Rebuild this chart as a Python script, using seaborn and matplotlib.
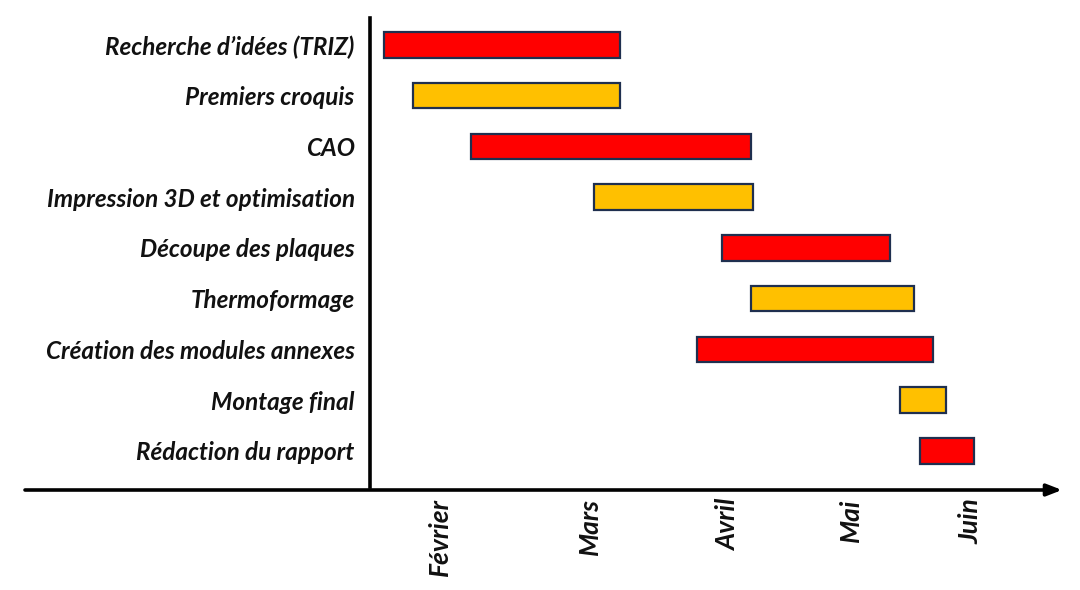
import numpy as np
import pandas as pd
import seaborn as sns
import matplotlib.pyplot as plt

sns.set_style('white')
plt.rcParams['font.family'] = ['Lato', 'DejaVu Sans']

# Tasks of the planning (start / end, arbitrary time units)
taches = ['Recherche d\u2019idées (TRIZ)', 'Premiers croquis', 'CAO',
          'Impression 3D et optimisation', 'Découpe des plaques', 'Thermoformage',
          'Création des modules annexes', 'Montage final', 'Rédaction du rapport']
debut = [38.4, 41.3, 47.1, 59.4, 72.2, 75.1, 69.7, 90.0, 92.0]
fin = [62.0, 62.0, 75.1, 75.3, 89.0, 91.4, 93.3, 94.6, 97.4]
couleur = ['#FF0000', '#FFC000', '#FF0000', '#FFC000', '#FF0000',
           '#FFC000', '#FF0000', '#FFC000', '#FF0000']

mois = ['Février', 'Mars', 'Avril', 'Mai', 'Juin']
mois_pos = [44.0, 59.0, 72.8, 85.1, 97.0]

df = pd.DataFrame({'tache': taches, 'debut': debut, 'fin': fin, 'couleur': couleur})
df['duree'] = df['fin'] - df['debut']

fig = plt.figure(figsize=(10.8, 5.9), dpi=100)
ax = fig.add_axes([370 / 1080, 1 - 490 / 590, 690 / 1080, 472 / 590])

ax.barh(np.arange(len(df)), df['duree'], left=df['debut'], height=0.5,
        color=df['couleur'], edgecolor='#1F2F4F', linewidth=1.6)

ax.set_xlim(37, 106)
ax.set_ylim(8.77, -0.53)

font = dict(fontweight='bold', fontstyle='italic', color='#111111')
ax.set_yticks(np.arange(len(df)))
ax.set_yticklabels(df['tache'], fontsize=17.5, **font)
ax.set_xticks(mois_pos)
ax.set_xticklabels(mois, rotation=90, va='top', ha='center', fontsize=19, **font)
ax.tick_params(axis='y', length=0, pad=11)
ax.tick_params(axis='x', length=0, pad=6)

for s in ['top', 'right', 'bottom']:
    ax.spines[s].set_visible(False)
ax.spines['left'].set_linewidth(2.6)
ax.spines['left'].set_color('black')
ax.spines['left'].set_bounds(8.72, -0.53)

# horizontal time arrow, it goes past the vertical axis on the left
ax.annotate('', xy=(1062 / 1080, 1 - 490 / 590), xytext=(25 / 1080, 1 - 490 / 590),
            xycoords='figure fraction', textcoords='figure fraction',
            arrowprops=dict(arrowstyle='-|>,head_length=0.9,head_width=0.35',
                            lw=2.6, color='black', shrinkA=0, shrinkB=0))

plt.savefig('out.png', dpi=100)
